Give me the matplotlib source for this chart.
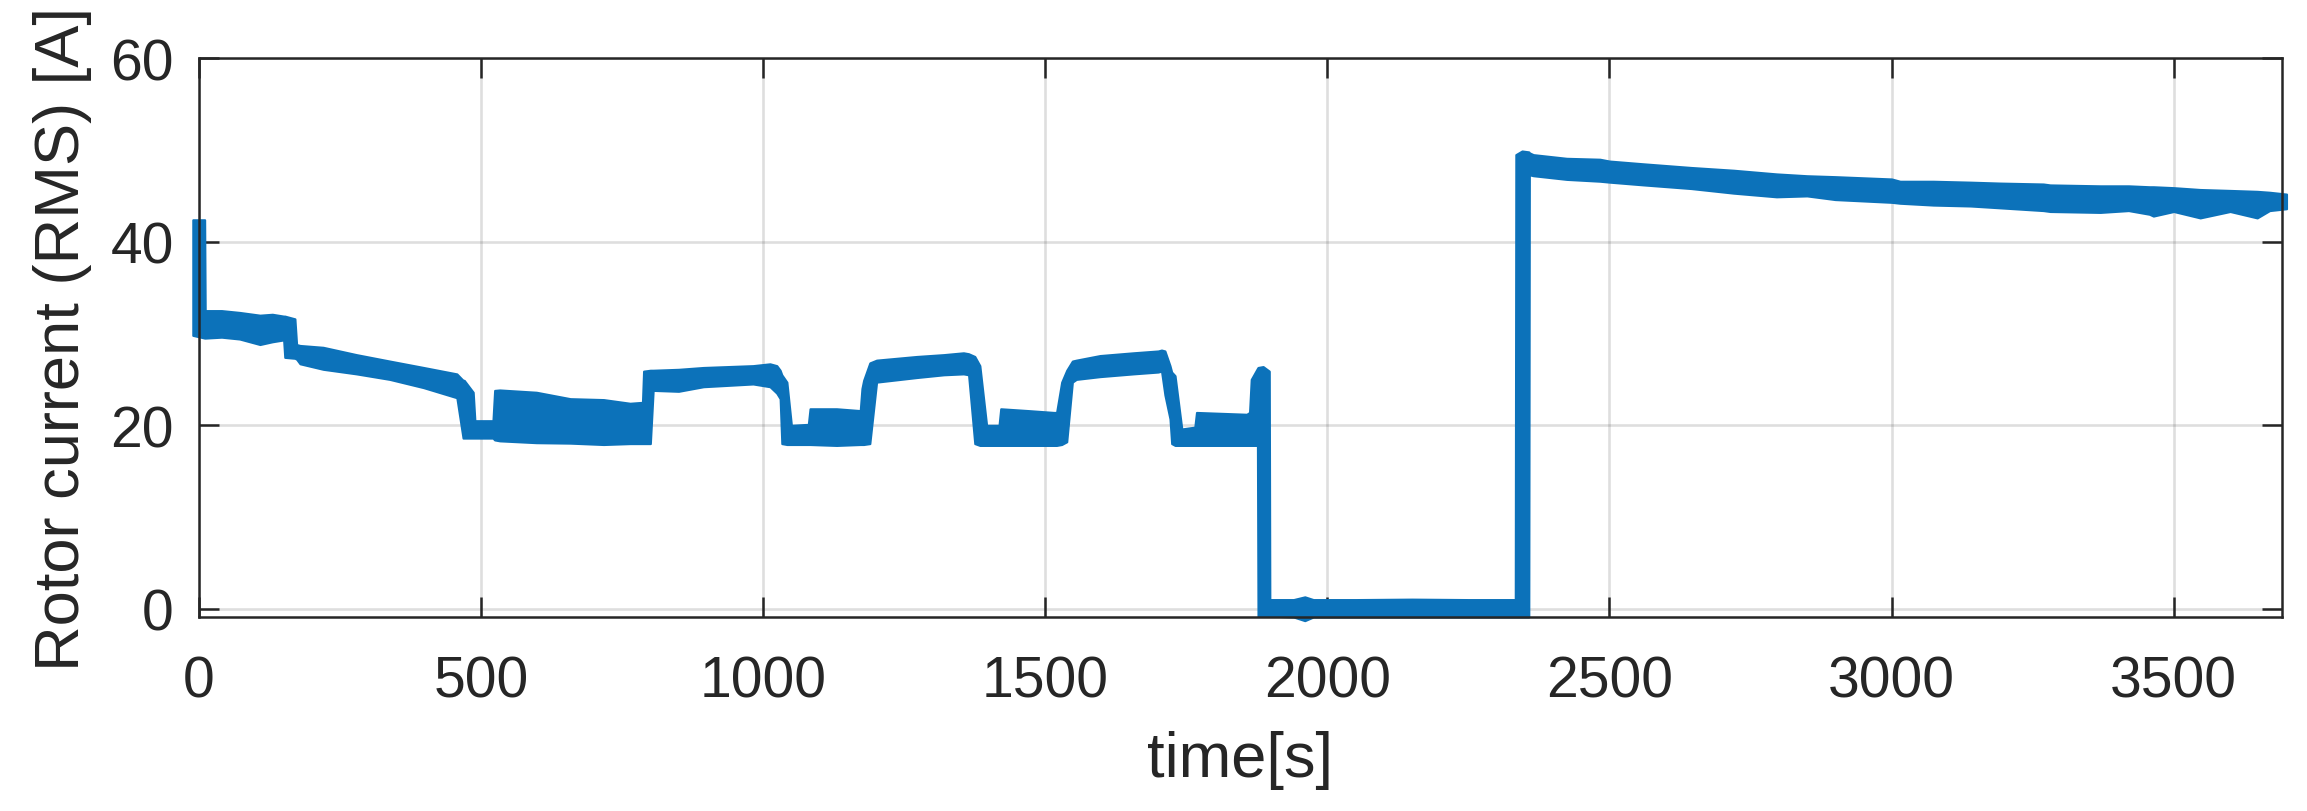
import matplotlib
matplotlib.use("Agg")
import matplotlib.pyplot as plt

plt.rcParams['font.family'] = ['Liberation Sans', 'DejaVu Sans']

# Rotor current (RMS) [A] vs time [s]; the recorded signal is a thick noisy trace,
# given here by its lower / upper visible edges read from the reference.
time_s = [
    -11, 10, 11, 40, 72, 108, 130, 150, 152, 170, 173, 179, 220, 279, 338, 398, 457, 468,
    470, 486, 489, 521, 524, 533, 598, 658, 717, 764, 786, 788, 800, 805, 850, 894, 982,
    1012, 1024, 1030, 1033, 1042, 1050, 1080, 1083, 1130, 1172, 1175, 1178, 1189, 1201,
    1272, 1320, 1355, 1364, 1375, 1384, 1396, 1418, 1421, 1470, 1515, 1520, 1529, 1538,
    1548, 1555, 1597, 1656, 1700, 1706, 1712, 1721, 1724, 1730, 1742, 1765, 1768, 1857,
    1862, 1865, 1876, 1877, 1886, 1897, 1898, 1940, 1960, 1975, 2050, 2150, 2250, 2333,
    2334, 2345, 2357, 2358, 2365, 2424, 2483, 2500, 2560, 2645, 2720, 2796, 2850, 2900,
    3000, 3015, 3074, 3140, 3192, 3269, 3281, 3370, 3420, 3457, 3464, 3500, 3547, 3600,
    3648, 3670, 3700,
]
current_low = [
    29.8, 29.5, 29.5, 29.6, 29.4, 28.8, 29.1, 29.3, 27.4, 27.3, 27.2, 26.7, 26.1, 25.6,
    25.0, 24.1, 23.0, 18.6, 18.6, 18.6, 18.6, 18.6, 18.4, 18.3, 18.1, 18.05, 17.9, 18.0,
    18.0, 18.0, 18.0, 23.8, 23.7, 24.2, 24.5, 24.2, 23.5, 22.9, 18.0, 17.9, 17.9, 17.9,
    17.9, 17.8, 17.9, 17.9, 17.9, 18.0, 24.7, 25.2, 25.5, 25.6, 25.5, 18.0, 17.8, 17.8,
    17.8, 17.8, 17.8, 17.8, 17.8, 17.9, 18.2, 24.7, 25.0, 25.3, 25.6, 25.8, 25.9, 23.3,
    20.7, 18.0, 17.8, 17.8, 17.8, 17.8, 17.8, 17.8, 17.8, 17.8, -0.8, -0.8, -0.8, -0.8,
    -0.9, -1.3, -0.9, -0.9, -0.9, -0.9, -0.9, -0.9, -0.9, -0.9, 47.3, 47.2, 46.8, 46.6,
    46.5, 46.2, 45.8, 45.3, 44.9, 45.0, 44.6, 44.3, 44.2, 44.0, 43.9, 43.7, 43.4, 43.3,
    43.2, 43.4, 43.0, 42.8, 43.3, 42.6, 43.3, 42.6, 43.4, 43.6,
]
current_high = [
    42.4, 42.4, 32.5, 32.5, 32.3, 32.0, 32.1, 31.9, 31.9, 31.6, 28.8, 28.7, 28.5, 27.7,
    27.0, 26.3, 25.6, 24.9, 24.9, 23.6, 20.5, 20.5, 23.8, 23.85, 23.6, 22.9, 22.8, 22.4,
    22.5, 25.9, 26.0, 26.0, 26.1, 26.3, 26.5, 26.7, 26.5, 26.0, 25.5, 24.7, 20.0, 20.1,
    21.8, 21.8, 21.6, 24.0, 24.9, 26.8, 27.1, 27.5, 27.7, 27.9, 27.8, 27.5, 26.5, 20.0,
    20.0, 21.8, 21.6, 21.4, 21.4, 24.7, 26.0, 27.0, 27.1, 27.6, 27.9, 28.1, 28.2, 28.1,
    26.5, 25.8, 25.4, 19.6, 19.8, 21.4, 21.2, 21.4, 25.0, 26.2, 26.3, 26.4, 25.9, 1.0,
    1.0, 1.3, 1.0, 1.0, 1.05, 1.0, 1.0, 49.5, 49.9, 49.8, 49.7, 49.5, 49.1, 49.0, 48.8,
    48.5, 48.1, 47.8, 47.4, 47.2, 47.1, 46.85, 46.6, 46.6, 46.5, 46.4, 46.3, 46.2, 46.1,
    46.1, 46.0, 46.0, 45.9, 45.7, 45.6, 45.5, 45.4, 45.2,
]

x_ticks = [0, 500, 1000, 1500, 2000, 2500, 3000, 3500]
y_ticks = [0, 20, 40, 60]

W, H = 2307, 812
fig = plt.figure(figsize=(W / 100, H / 100), dpi=100)
ax = fig.add_axes([199 / W, (812 - 618) / H, (2282 - 199) / W, (618 - 59.3) / H])

blue = '#0C72BA'
ax.fill_between(time_s, current_low, current_high, facecolor=blue, edgecolor=blue,
                linewidth=1.5, clip_on=False, zorder=3)

ax.set_xlim(0, 3692)
ax.set_ylim(-0.9, 60)
ax.set_xticks(x_ticks)
ax.set_yticks(y_ticks)

dark = '#262626'
ax.grid(True, color=dark, alpha=0.15, linewidth=1.9)
ax.set_axisbelow(True)
for s in ax.spines.values():
    s.set_color(dark)
    s.set_linewidth(1.8)
    s.set_zorder(4)
ax.tick_params(axis='both', which='major', direction='in', length=14.4, width=1.8,
               colors=dark, labelsize=41, top=True, right=True)
ax.tick_params(axis='x', pad=27)
ax.tick_params(axis='y', pad=18)

ax.set_xlabel('time[s]', fontsize=45.5, color=dark)
ax.set_ylabel('Rotor current (RMS) [A]', fontsize=45.5, color=dark)
ax.xaxis.set_label_coords(0.5, -0.2023)
ax.yaxis.set_label_coords(-0.0514, 0.5)

fig.savefig('out.png', dpi=100)
